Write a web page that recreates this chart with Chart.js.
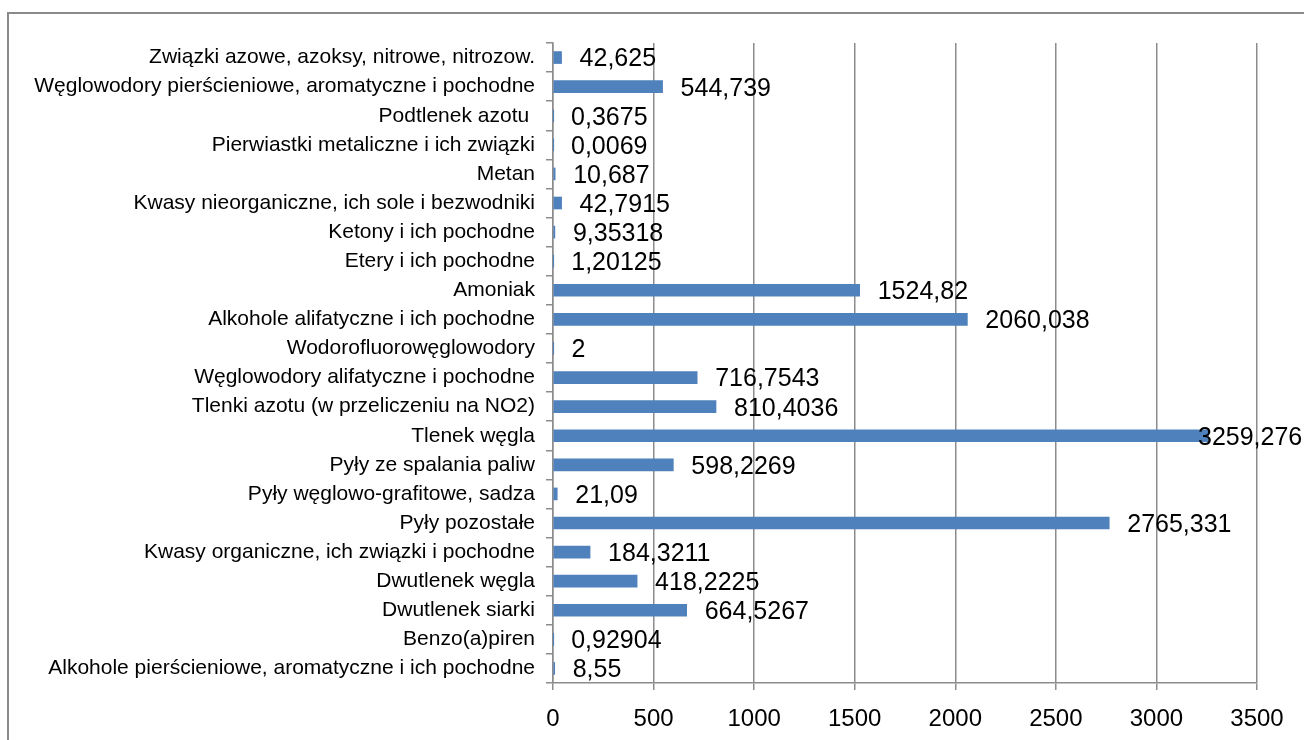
<!DOCTYPE html>
<html>
<head>
<meta charset="utf-8">
<script src="https://cdn.jsdelivr.net/npm/chart.js@4"></script>
<style>
  html, body { margin: 0; padding: 0; background: #fff; overflow: hidden; }
  #frame { position: absolute; left: 7px; top: 12px; width: 1400px; height: 800px; border: 2px solid #8a8a8a; box-sizing: border-box; }
  #wrap { position: absolute; left: 0; top: 0; width: 1304px; height: 740px; }
</style>
</head>
<body>
<div id="frame"></div>
<div id="wrap"><canvas id="mainCanvas"></canvas></div>
<script>
// categories top to bottom, as on the picture
var categories = [
  'Związki azowe, azoksy, nitrowe, nitrozow.',
  'Węglowodory pierścieniowe, aromatyczne i pochodne',
  'Podtlenek azotu ',
  'Pierwiastki metaliczne i ich związki',
  'Metan',
  'Kwasy nieorganiczne, ich sole i bezwodniki',
  'Ketony i ich pochodne',
  'Etery i ich pochodne',
  'Amoniak',
  'Alkohole alifatyczne i ich pochodne',
  'Wodorofluorowęglowodory',
  'Węglowodory alifatyczne i pochodne',
  'Tlenki azotu (w przeliczeniu na NO2)',
  'Tlenek węgla',
  'Pyły ze spalania paliw',
  'Pyły węglowo-grafitowe, sadza',
  'Pyły pozostałe',
  'Kwasy organiczne, ich związki i pochodne',
  'Dwutlenek węgla',
  'Dwutlenek siarki',
  'Benzo(a)piren',
  'Alkohole pierścieniowe, aromatyczne i ich pochodne'
];
var values = [
  42.625, 544.739, 0.3675, 0.0069, 10.687, 42.7915, 9.35318, 1.20125,
  1524.82, 2060.038, 2, 716.7543, 810.4036, 3259.276, 598.2269, 21.09,
  2765.331, 184.3211, 418.2225, 664.5267, 0.92904, 8.55
];
var xTicks = [0, 500, 1000, 1500, 2000, 2500, 3000, 3500];

var gridColor = '#8c8c8c';

// value labels next to the bars (comma as decimal sign)
var valueLabels = {
  id: 'valueLabels',
  afterDatasetsDraw(chart) {
    var ctx = chart.ctx;
    var meta = chart.getDatasetMeta(0);
    var area = chart.chartArea;
    ctx.save();
    ctx.font = '25px "Liberation Sans", Arial, sans-serif';
    ctx.fillStyle = '#000';
    ctx.textAlign = 'left';
    ctx.textBaseline = 'middle';
    meta.data.forEach(function (bar, i) {
      var x = Math.min(bar.x + 18, area.right - 59);
      ctx.fillText(String(values[i]).replace('.', ','), x, bar.y + 2);
    });
    ctx.restore();
  }
};

var ChartObj = new Chart(document.getElementById('mainCanvas'), {
  type: 'bar',
  data: {
    labels: categories,
    datasets: [{
      data: values,
      backgroundColor: '#4f81bd',
      barThickness: 12
    }]
  },
  options: {
    indexAxis: 'y',
    responsive: true,
    maintainAspectRatio: false,
    animation: false,
    layout: { padding: { top: 43, right: 47, left: 0, bottom: 0 } },
    plugins: { legend: { display: false }, tooltip: { enabled: false } },
    scales: {
      x: {
        min: 0,
        max: 3500,
        afterBuildTicks(scale) { scale.ticks = xTicks.map(function (v) { return { value: v }; }); },
        afterFit(scale) { scale.height = 57; },
        grid: { color: gridColor, lineWidth: 1.5, tickLength: 7 },
        border: { color: gridColor, width: 1.5 },
        ticks: {
          color: '#000',
          padding: 15,
          maxRotation: 0,
          callback: function (v) { return String(v); },
          font: { family: '"Liberation Sans", Arial, sans-serif', size: 24 }
        }
      },
      y: {
        afterFit(scale) { scale.width = 553; },
        grid: { offset: true, drawOnChartArea: false, color: gridColor, lineWidth: 1.5, tickLength: 7 },
        border: { color: gridColor, width: 1.5 },
        ticks: {
          color: '#000',
          padding: 11,
          autoSkip: false,
          font: { family: '"Liberation Sans", Arial, sans-serif', size: 21 }
        }
      }
    }
  },
  plugins: [valueLabels]
});
</script>
</body>
</html>
